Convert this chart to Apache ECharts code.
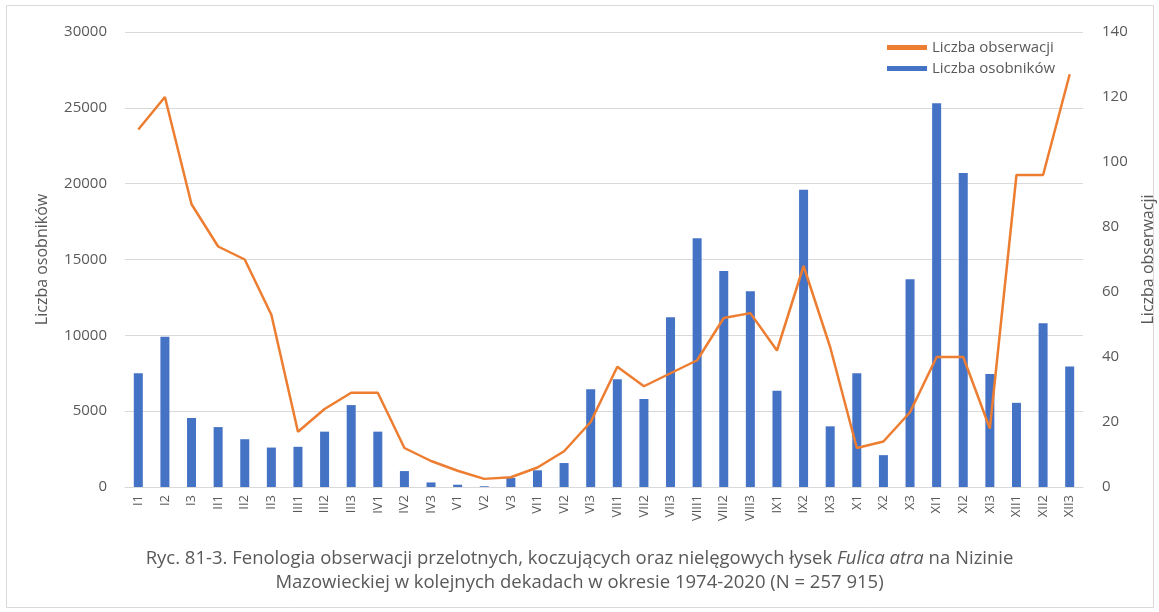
<!DOCTYPE html>
<html><head><meta charset="utf-8">
<script src="https://cdn.jsdelivr.net/npm/echarts@6/dist/echarts.min.js"></script>
<style>html,body{margin:0;padding:0;background:#fff}#c{width:1159px;height:612px}</style>
</head><body><div id="c"></div>
<script>
const categories = ["I1","I2","I3","II1","II2","II3","III1","III2","III3","IV1","IV2","IV3","V1","V2","V3","VI1","VI2","VI3","VII1","VII2","VII3","VIII1","VIII2","VIII3","IX1","IX2","IX3","X1","X2","X3","XI1","XI2","XI3","XII1","XII2","XII3"];
const osobnikow = [7500,9900,4550,3950,3150,2600,2650,3650,5400,3650,1050,300,150,50,600,1100,1580,6450,7100,5800,11200,16400,14250,12900,6350,19600,4000,7500,2100,13700,25300,20700,7450,5550,10800,7950];
const obserwacji = [110,120,87,74,70,53,17,24,29,29,12,8,5,2.5,3,6,11,20,37,31,35,39,52,53.5,42,68,43,12,14,23,40,40,18,96,96,127];
const leftTicks = [0,5000,10000,15000,20000,25000,30000];
const rightTicks = [0,20,40,60,80,100,120,140];
const nameBars = "Liczba osobników";
const nameLine = "Liczba obserwacji";

const FONT = "'Open Sans', 'Liberation Sans', sans-serif";
const TXT = '#595959';
const chart = echarts.init(document.getElementById('c'));
chart.setOption({
  animation:false,
  textStyle:{fontFamily:FONT},
  graphic:[{type:'rect',shape:{x:6.5,y:5.5,width:1147,height:602},style:{fill:'none',stroke:'#d9d9d9',lineWidth:1},silent:true}],
  title:{
    left:'center', top:542,
    text:'{a|Ryc. 81-3. Fenologia obserwacji przelotnych, koczujących oraz nielęgowych łysek }{i|Fulica atra}{a| na Nizinie}\n{a|Mazowieckiej w kolejnych dekadach w okresie 1974-2020 (N = 257 915)}',
    textStyle:{fontWeight:'normal',rich:{
      a:{fontFamily:FONT,fontSize:18.5,color:TXT,lineHeight:24,fontWeight:'normal'},
      i:{fontFamily:FONT,fontSize:18.5,color:TXT,fontStyle:'italic',lineHeight:24,fontWeight:'normal'}
    }}
  },
  legend:{
    orient:'vertical', left:882, top:35, itemGap:6, itemWidth:40, itemHeight:5,
    textStyle:{color:TXT,fontSize:15,fontFamily:FONT},
    data:[{name:nameLine,icon:'rect',itemStyle:{color:'#ED7D31'}},{name:nameBars,icon:'rect'}]
  },
  grid:{left:125,right:76,top:32,bottom:125,outerBoundsMode:'none',containLabel:false},
  xAxis:{
    type:'category', data:categories,
    axisTick:{show:false},
    axisLine:{lineStyle:{color:'#d9d9d9'}},
    axisLabel:{rotate:90,color:TXT,fontSize:13,margin:8,interval:0}
  },
  yAxis:[{
    type:'value', min:0, max:30000, interval:5000,
    name:nameBars, nameLocation:'middle', nameGap:75, nameRotate:90,
    nameTextStyle:{color:TXT,fontSize:16},
    axisLabel:{color:TXT,fontSize:15,margin:18,formatter:function(v){return String(v);}},
    splitLine:{lineStyle:{color:'#d9d9d9'}},
    axisLine:{show:false}, axisTick:{show:false}
  },{
    type:'value', min:0, max:140, interval:20,
    name:nameLine, nameLocation:'middle', nameGap:57, nameRotate:90,
    nameTextStyle:{color:TXT,fontSize:16},
    axisLabel:{color:TXT,fontSize:15,margin:19,formatter:function(v){return String(v);}},
    splitLine:{show:false}, axisLine:{show:false}, axisTick:{show:false}
  }],
  series:[{
    name:nameBars, type:'bar', data:osobnikow, barWidth:9,
    itemStyle:{color:'#4472C4'}, z:2
  },{
    name:nameLine, type:'line', yAxisIndex:1, data:obserwacji,
    showSymbol:false, symbol:'none',
    lineStyle:{color:'#ED7D31',width:2.5}, itemStyle:{color:'#ED7D31'}, z:3
  }]
});
</script></body></html>
